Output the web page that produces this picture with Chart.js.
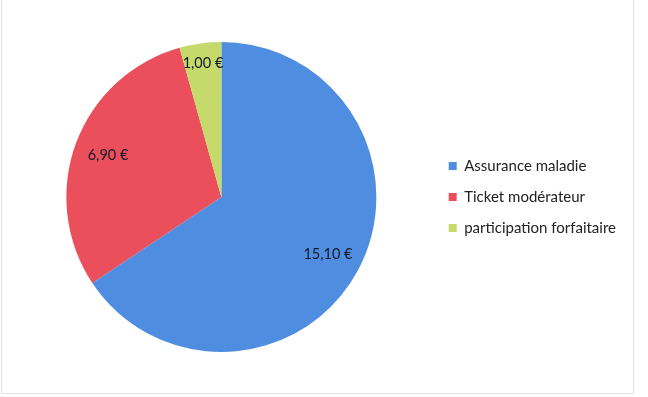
<!DOCTYPE html>
<html>
<head>
<meta charset="utf-8">
<script src="https://cdn.jsdelivr.net/npm/chart.js@4"></script>
<style>
  html, body { margin: 0; padding: 0; background: #fff; }
  #wrap { width: 648px; height: 397px; position: relative; }
</style>
</head>
<body>
<div id="wrap"><canvas id="pie" width="648" height="397"></canvas></div>
<script>
const labels = ['Assurance maladie', 'Ticket modérateur', 'participation forfaitaire'];
const values = [15.10, 6.90, 1.00];
const colors = ['#4f8de0', '#ea4f5b', '#c5da6b'];

const fmt = v => v.toFixed(2).replace('.', ',') + ' €';

// draws the value labels inside the slices
const sliceLabels = {
  id: 'sliceLabels',
  afterDatasetsDraw(chart) {
    const ctx = chart.ctx;
    const meta = chart.getDatasetMeta(0);
    const total = values.reduce((a, b) => a + b, 0);
    ctx.save();
    ctx.font = '14.5px Lato';
    ctx.fillStyle = '#151a2a';
    ctx.textAlign = 'center';
    ctx.textBaseline = 'middle';
    meta.data.forEach((arc, i) => {
      const p = arc.getProps(['x', 'y', 'startAngle', 'endAngle', 'outerRadius']);
      const mid = (p.startAngle + p.endAngle) / 2;
      const f = values[i] / total < 0.1 ? 0.87 : 0.78;
      const x = p.x + Math.cos(mid) * p.outerRadius * f;
      const y = p.y + Math.sin(mid) * p.outerRadius * f;
      ctx.fillText(fmt(values[i]), x, y);
    });
    ctx.restore();
  }
};

// faint frame around the picture
const frame = {
  id: 'frame',
  beforeDraw(chart) {
    const ctx = chart.ctx;
    ctx.save();
    ctx.strokeStyle = '#e2e2e6';
    ctx.lineWidth = 1;
    ctx.beginPath();
    ctx.moveTo(1.5, 0);
    ctx.lineTo(1.5, 393.5);
    ctx.lineTo(633.5, 393.5);
    ctx.lineTo(633.5, 0);
    ctx.stroke();
    ctx.restore();
  }
};

new Chart(document.getElementById('pie'), {
  type: 'pie',
  data: {
    labels: labels,
    datasets: [{
      data: values,
      backgroundColor: colors,
      borderWidth: 0
    }]
  },
  options: {
    responsive: false,
    animation: false,
    layout: { padding: { left: 10, top: 42, bottom: 45, right: 22 } },
    plugins: {
      tooltip: { enabled: false },
      legend: {
        position: 'right',
        labels: {
          boxWidth: 8,
          boxHeight: 8,
          padding: 16,
          color: '#222',
          font: { family: 'Lato', size: 15 }
        }
      }
    }
  },
  plugins: [sliceLabels, frame]
});
</script>
</body>
</html>
